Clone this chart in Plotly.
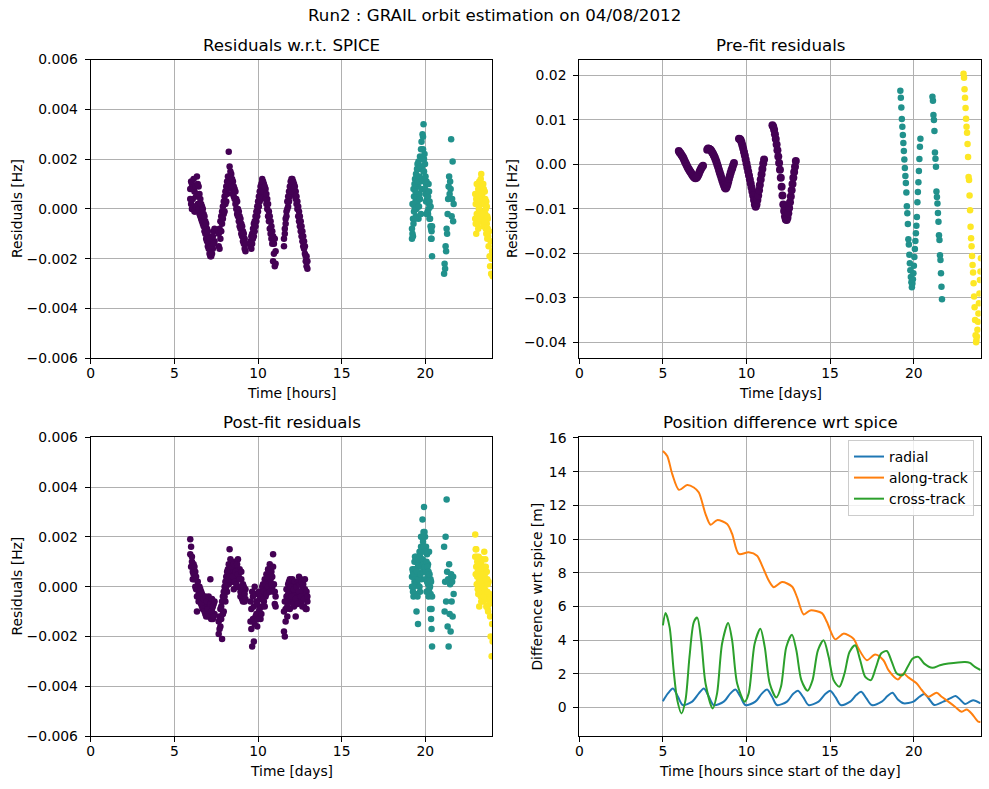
import plotly.graph_objects as go

# ---------------- data ----------------
# observation times [h] for each arc segment (purple arc)
tA = [5.95, 6.00, 6.05, 6.10, 6.15, 6.20, 6.25, 6.30, 6.35, 6.40, 6.45, 6.50, 6.55, 6.60, 6.65,
      6.70, 6.75, 6.80, 6.85, 6.90, 6.95, 7.00, 7.05, 7.10, 7.15, 7.20, 7.25, 7.30, 7.35, 7.40]
tB = [7.65, 7.70, 7.75, 7.80, 7.85, 7.90, 7.95, 8.00, 8.05, 8.10, 8.15, 8.20, 8.25, 8.30, 8.35, 8.40, 8.45,
      8.50, 8.55, 8.60, 8.65, 8.70, 8.75, 8.80, 8.85, 8.90, 8.95, 9.00, 9.05, 9.10, 9.15, 9.20, 9.25]
tC = [9.55, 9.60, 9.65, 9.70, 9.75, 9.80, 9.85, 9.90, 9.95, 10.00, 10.05, 10.10, 10.15, 10.20, 10.25, 10.30,
      10.35, 10.40, 10.45, 10.50, 10.55, 10.60, 10.65, 10.70, 10.75, 10.80, 10.85, 10.90, 10.95, 11.00, 11.05]
tD = [11.55, 11.60, 11.65, 11.70, 11.75, 11.80, 11.85, 11.90, 11.95, 12.00, 12.05, 12.10, 12.15, 12.20, 12.25,
      12.30, 12.35, 12.40, 12.45, 12.50, 12.55, 12.60, 12.65, 12.70, 12.75, 12.80, 12.85, 12.90, 12.95]
# teal arc
tE = [19.20, 19.23, 19.26, 19.29, 19.32, 19.35, 19.38, 19.41, 19.44, 19.47, 19.50, 19.53, 19.56, 19.59,
      19.62, 19.65, 19.68, 19.71, 19.74, 19.77, 19.80, 19.83, 19.86, 19.89]
tF = [19.92, 19.95, 19.98, 20.01, 20.04, 20.07, 20.10, 20.13, 20.16, 20.19, 20.22, 20.25, 20.28, 20.31,
      20.34, 20.37, 20.40]
tG = [21.12, 21.15, 21.18, 21.21, 21.24, 21.27, 21.30, 21.33, 21.36, 21.39, 21.42, 21.45, 21.48, 21.51,
      21.54, 21.57, 21.60, 21.63, 21.66, 21.69]
# yellow arc
tH = [22.98, 23.01, 23.04, 23.07, 23.10, 23.13, 23.16, 23.19, 23.22, 23.25, 23.28, 23.31, 23.34, 23.37,
      23.40, 23.43, 23.46, 23.49, 23.52, 23.55, 23.58, 23.61, 23.64, 23.67, 23.70, 23.73]
tI = [23.75, 23.78, 23.81, 23.84, 23.87, 23.90, 23.93, 23.96, 23.99, 24.02]

# residuals w.r.t. SPICE [Hz], two links observed at each epoch
spice_A = [0.0008, 0.0002, 0.0010, 0.0004, 0.0001, 0.0007, -0.0001, 0.0005, 0.0013, 0.0002, 0.0009, -0.0002,
           0.0004, -0.0004, 0.0001, -0.0006, -0.0002, -0.0009, -0.0005, -0.0012, -0.0008, -0.0015, -0.0011,
           -0.0018, -0.0014, -0.0019, -0.0012, -0.0016, -0.0009, -0.0013]
spice_B = [-0.0015, -0.0008, -0.0012, -0.0003, -0.0006, 0.0001, -0.0002, 0.0005, 0.0002, 0.0009, 0.0006,
           0.0013, 0.0023, 0.0017, 0.0010, 0.0014, 0.0008, 0.0011, 0.0005, 0.0008, 0.0002, 0.0004, -0.0002,
           0.0000, -0.0005, -0.0003, -0.0008, -0.0006, -0.0011, -0.0009, -0.0014, -0.0012, -0.0017]
spice_C = [-0.0013, -0.0016, -0.0010, -0.0012, -0.0006, -0.0009, -0.0003, -0.0005, 0.0001, -0.0001, 0.0005,
           0.0003, 0.0009, 0.0006, 0.0011, 0.0008, 0.0010, 0.0006, 0.0008, 0.0002, 0.0004, -0.0003, -0.0001,
           -0.0008, -0.0005, -0.0012, -0.0009, -0.0021, -0.0014, -0.0023, -0.0017]
spice_D = [-0.0012, -0.0008, -0.0004, -0.0001, 0.0003, 0.0001, 0.0007, 0.0005, 0.0011, 0.0008, 0.0012,
           0.0009, 0.0010, 0.0006, 0.0007, 0.0002, 0.0003, -0.0003, -0.0001, -0.0007, -0.0005, -0.0011,
           -0.0009, -0.0015, -0.0013, -0.0018, -0.0021, -0.0019, -0.0024]
spice_E = [-0.0012, -0.0010, -0.0004, -0.0006, 0.0005, 0.0001, 0.0012, 0.0003, -0.0003, 0.0012, 0.0005,
           0.0018, 0.0009, -0.0004, 0.0016, 0.0006, 0.0021, 0.0011, -0.0002, 0.0027, 0.0017, 0.0030, 0.0024, 0.0034]
spice_F = [0.0020, 0.0012, 0.0018, 0.0006, 0.0010, -0.0002, 0.0004, 0.0007, -0.0002, 0.0010, 0.0002,
           -0.0004, 0.0001, -0.0007, -0.0012, -0.0009, -0.0019]
spice_G = [-0.0026, -0.0022, -0.0024, -0.0015, -0.0017, -0.0008, -0.0010, -0.0002, 0.0004, 0.0009, 0.0013,
           0.0006, 0.0011, 0.0008, 0.0028, -0.0003, 0.0004, 0.0019, -0.0005, 0.0002]
spice_H = [-0.0004, 0.0002, -0.0010, -0.0002, 0.0005, -0.0006, 0.0008, 0.0000, 0.0011, -0.0003, 0.0009,
           0.0003, 0.0014, -0.0001, 0.0006, -0.0005, 0.0010, 0.0002, -0.0004, 0.0007, -0.0002, -0.0008,
           0.0003, -0.0006, -0.0012, -0.0004]
spice_I = [-0.0011, -0.0015, -0.0009, -0.0019, -0.0023, -0.0013, -0.0026, -0.0020, -0.0017, -0.0027]
spice2_A = [0.0004, 0.0011, 0.0000, 0.0008, 0.0012, -0.0001, 0.0009, 0.0001, 0.0006, 0.0010, 0.0000, 0.0006,
            -0.0003, 0.0002, -0.0005, 0.0000, -0.0007, -0.0003, -0.0010, -0.0006, -0.0013, -0.0009, -0.0016,
            -0.0012, -0.0019, -0.0015, -0.0018, -0.0011, -0.0014, -0.0008]
spice2_B = [-0.0010, -0.0016, -0.0005, -0.0009, -0.0001, -0.0004, 0.0003, -0.0001, 0.0007, 0.0003, 0.0011,
            0.0008, 0.0010, 0.0013, 0.0015, 0.0009, 0.0012, 0.0006, 0.0009, 0.0004, 0.0007, 0.0000, 0.0003,
            -0.0003, -0.0001, -0.0007, -0.0004, -0.0010, -0.0007, -0.0013, -0.0010, -0.0016, -0.0014]
spice2_C = [-0.0015, -0.0011, -0.0014, -0.0008, -0.0011, -0.0005, -0.0007, -0.0001, -0.0003, 0.0003, 0.0001,
            0.0007, 0.0004, 0.0010, 0.0012, 0.0011, 0.0007, 0.0009, 0.0004, 0.0006, 0.0000, 0.0002, -0.0005,
            -0.0003, -0.0010, -0.0007, -0.0014, -0.0011, -0.0018, -0.0012, -0.0022]
spice2_D = [-0.0015, -0.0010, -0.0006, -0.0003, 0.0000, 0.0005, 0.0003, 0.0009, 0.0007, 0.0012, 0.0010,
            0.0011, 0.0008, 0.0009, 0.0004, 0.0005, 0.0000, 0.0001, -0.0005, -0.0003, -0.0009, -0.0007,
            -0.0013, -0.0011, -0.0016, -0.0015, -0.0019, -0.0023, -0.0021]
spice2_E = [-0.0008, 0.0002, -0.0011, 0.0008, -0.0001, 0.0010, -0.0004, 0.0007, 0.0014, 0.0000, 0.0016,
            0.0003, 0.0011, 0.0019, 0.0001, 0.0013, 0.0004, 0.0017, 0.0024, 0.0008, 0.0020, 0.0012, 0.0029, 0.0015]
spice2_F = [0.0015, 0.0022, 0.0008, 0.0013, 0.0003, 0.0011, 0.0006, -0.0001, 0.0005, 0.0000, 0.0007, 0.0003,
            -0.0004, 0.0001, -0.0008, -0.0012, -0.0007]
spice2_H = [0.0006, -0.0006, 0.0004, 0.0010, -0.0003, 0.0003, -0.0008, 0.0006, 0.0001, 0.0008, -0.0004,
            0.0012, 0.0005, 0.0009, -0.0002, 0.0004, -0.0007, 0.0008, 0.0002, -0.0005, 0.0004, 0.0000,
            -0.0010, 0.0001, -0.0003, -0.0008]

# pre-fit residuals [Hz]
pre_A = [0.0030, 0.0027, 0.0025, 0.0022, 0.0019, 0.0016, 0.0012, 0.0008, 0.0004, 0.0000, -0.0004, -0.0008,
         -0.0011, -0.0014, -0.0017, -0.0020, -0.0023, -0.0026, -0.0028, -0.0030, -0.0031, -0.0030, -0.0028,
         -0.0025, -0.0021, -0.0016, -0.0012, -0.0008, -0.0005, -0.0003]
pre_B = [0.0033, 0.0036, 0.0035, 0.0034, 0.0033, 0.0030, 0.0027, 0.0024, 0.0020, 0.0016, 0.0011, 0.0006,
         0.0000, -0.0006, -0.0012, -0.0018, -0.0024, -0.0030, -0.0036, -0.0042, -0.0047, -0.0052, -0.0054,
         -0.0052, -0.0047, -0.0040, -0.0033, -0.0026, -0.0019, -0.0013, -0.0008, -0.0002, 0.0003]
pre_C = [0.0058, 0.0057, 0.0055, 0.0050, 0.0043, 0.0036, 0.0028, 0.0020, 0.0011, 0.0002, -0.0007, -0.0016,
         -0.0025, -0.0034, -0.0043, -0.0052, -0.0061, -0.0070, -0.0080, -0.0090, -0.0095, -0.0090, -0.0080,
         -0.0070, -0.0058, -0.0046, -0.0034, -0.0022, -0.0010, 0.0002, 0.0011]
pre_D = [0.0088, 0.0085, 0.0078, 0.0068, 0.0057, 0.0045, 0.0032, 0.0018, 0.0003, -0.0012, -0.0030, -0.0050,
         -0.0070, -0.0090, -0.0105, -0.0117, -0.0124, -0.0125, -0.0120, -0.0110, -0.0098, -0.0085, -0.0072,
         -0.0058, -0.0044, -0.0030, -0.0017, -0.0005, 0.0008]
pre_E = [0.0166, 0.0150, 0.0128, 0.0102, 0.0085, 0.0066, 0.0048, 0.0030, 0.0011, -0.0008, -0.0026, -0.0042,
         -0.0063, -0.0094, -0.0110, -0.0134, -0.0168, -0.0180, -0.0203, -0.0222, -0.0238, -0.0253, -0.0265, -0.0276]
pre_F = [-0.0268, -0.0258, -0.0245, -0.0228, -0.0208, -0.0190, -0.0172, -0.0155, -0.0138, -0.0118, -0.0085,
         -0.0062, -0.0040, -0.0015, 0.0012, 0.0040, 0.0058]
pre_G = [0.0152, 0.0143, 0.0111, 0.0100, 0.0075, 0.0027, 0.0013, -0.0005, -0.0061, -0.0073, -0.0088, -0.0109,
         -0.0129, -0.0159, -0.0170, -0.0204, -0.0215, -0.0245, -0.0275, -0.0303]
pre_H = [0.0204, 0.0195, 0.0169, 0.0150, 0.0127, 0.0103, 0.0085, 0.0071, 0.0046, 0.0017, -0.0028, -0.0035,
         -0.0070, -0.0103, -0.0140, -0.0166, -0.0184, -0.0206, -0.0226, -0.0243, -0.0267, -0.0297, -0.0321,
         -0.0350, -0.0384, -0.0400]
pre_I = [-0.0395, -0.0387, -0.0372, -0.0354, -0.0335, -0.0312, -0.0290, -0.0260, -0.0241, -0.0211]

# post-fit residuals [Hz], two links observed at each epoch
post_A = [0.0019, 0.0016, 0.0010, 0.0006, 0.0009, 0.0003, 0.0006, -0.0001, -0.0010, 0.0002, -0.0003, 0.0000,
          -0.0006, -0.0002, -0.0008, -0.0004, -0.0009, -0.0006, -0.0011, -0.0007, -0.0010, -0.0005, -0.0012,
          -0.0008, 0.0003, -0.0013, -0.0009, -0.0013, -0.0007, -0.0011]
post_B = [-0.0019, -0.0012, -0.0016, -0.0008, -0.0021, -0.0004, -0.0010, 0.0000, -0.0006, 0.0004, -0.0002,
          0.0007, 0.0001, 0.0015, 0.0005, 0.0009, 0.0002, 0.0007, -0.0001, 0.0010, 0.0003, 0.0008, 0.0000,
          0.0011, 0.0004, 0.0007, -0.0002, 0.0003, -0.0005, 0.0001, -0.0003, -0.0006, -0.0001]
post_C = [-0.0014, -0.0009, -0.0024, -0.0004, -0.0022, 0.0000, -0.0012, -0.0006, -0.0016, -0.0003, -0.0010,
          -0.0005, -0.0013, -0.0002, -0.0008, 0.0001, -0.0006, 0.0003, -0.0004, 0.0005, -0.0001, 0.0007,
          0.0002, 0.0009, 0.0003, 0.0006, 0.0000, 0.0013, -0.0002, -0.0007, -0.0004]
post_D = [-0.0018, -0.0020, -0.0009, -0.0004, -0.0012, 0.0001, -0.0006, 0.0003, -0.0002, 0.0002, -0.0005,
          0.0000, -0.0008, -0.0003, -0.0012, -0.0006, 0.0001, -0.0004, 0.0004, -0.0002, 0.0003, -0.0006,
          0.0000, -0.0003, -0.0008, -0.0001, -0.0005, -0.0009, -0.0006]
post_E = [0.0004, 0.0000, 0.0006, -0.0004, 0.0007, 0.0002, 0.0012, -0.0003, 0.0005, -0.0010, 0.0010, 0.0001,
          -0.0015, 0.0008, 0.0004, 0.0014, -0.0002, 0.0009, 0.0020, 0.0003, 0.0014, 0.0027, 0.0006, 0.0022]
post_F = [0.0032, 0.0010, 0.0020, 0.0003, 0.0016, -0.0002, 0.0013, 0.0005, 0.0009, -0.0004, 0.0014, 0.0002,
          -0.0009, 0.0003, -0.0013, -0.0017, -0.0024]
post_G = [0.0016, -0.0010, 0.0002, 0.0020, -0.0006, 0.0035, 0.0006, -0.0016, 0.0003, -0.0024, 0.0009,
          -0.0011, 0.0001, -0.0018, 0.0005, -0.0006, 0.0002, -0.0012, 0.0004, -0.0003]
post_H = [0.0021, 0.0015, 0.0008, 0.0012, 0.0004, -0.0001, 0.0009, 0.0002, -0.0008, 0.0006, 0.0000, -0.0004,
          0.0010, 0.0004, -0.0002, 0.0007, -0.0006, 0.0001, 0.0014, 0.0005, -0.0003, 0.0008, 0.0002, -0.0005,
          0.0003, -0.0009]
post_I = [-0.0010, 0.0002, -0.0007, -0.0003, -0.0012, -0.0020, -0.0005, -0.0028, -0.0015, -0.0022]
post2_A = [0.0013, 0.0008, 0.0012, 0.0003, 0.0005, 0.0008, 0.0000, 0.0004, -0.0004, -0.0001, -0.0006, -0.0004,
           -0.0001, -0.0007, -0.0003, -0.0009, -0.0005, -0.0010, -0.0004, -0.0012, -0.0006, -0.0009, -0.0004,
           -0.0011, -0.0007, -0.0010, -0.0005, -0.0008, -0.0012, -0.0006]
post2_B = [-0.0014, -0.0017, -0.0009, -0.0013, -0.0006, -0.0011, -0.0002, -0.0004, 0.0002, 0.0000, 0.0006,
           0.0003, 0.0009, 0.0004, 0.0011, 0.0003, 0.0008, 0.0004, 0.0009, 0.0002, 0.0006, 0.0001, 0.0009,
           0.0005, 0.0000, 0.0003, -0.0004, 0.0006, -0.0002, -0.0006, 0.0000, -0.0003, -0.0005]
post2_C = [-0.0006, -0.0017, -0.0002, -0.0013, -0.0008, -0.0015, -0.0003, -0.0011, -0.0007, -0.0013, -0.0002,
           -0.0009, -0.0004, -0.0011, 0.0000, -0.0005, -0.0002, -0.0008, 0.0001, -0.0003, 0.0004, 0.0000,
           0.0006, -0.0002, 0.0008, 0.0001, 0.0004, 0.0008, 0.0001, -0.0002, -0.0008]
post2_D = [-0.0010, -0.0006, -0.0014, -0.0001, -0.0008, -0.0003, 0.0002, -0.0009, 0.0000, -0.0004, 0.0003,
           -0.0007, -0.0001, 0.0002, -0.0005, 0.0000, -0.0007, 0.0002, -0.0002, 0.0001, -0.0004, 0.0002,
           -0.0008, 0.0001, -0.0005, 0.0003, -0.0009, -0.0002, -0.0004]
post2_E = [0.0000, 0.0007, -0.0002, 0.0005, 0.0000, 0.0010, 0.0003, 0.0007, 0.0012, 0.0002, 0.0006, -0.0004,
           0.0009, 0.0003, 0.0011, 0.0000, 0.0012, 0.0005, 0.0016, 0.0008, 0.0020, 0.0011, 0.0018, 0.0009]
post2_F = [0.0016, 0.0022, 0.0008, 0.0014, 0.0006, 0.0010, 0.0002, 0.0008, 0.0001, 0.0006, -0.0001, 0.0005,
           0.0000, -0.0003, 0.0002, -0.0009, -0.0004]
post2_H = [0.0012, 0.0005, 0.0015, 0.0001, 0.0010, 0.0006, -0.0003, 0.0012, 0.0004, -0.0002, 0.0009, 0.0002,
           -0.0006, 0.0007, 0.0011, 0.0000, 0.0005, -0.0004, 0.0008, -0.0001, 0.0011, 0.0003, -0.0008, 0.0006,
           -0.0002, 0.0001]

# position difference wrt SPICE [m]
t_along = [5.00, 5.26, 5.56, 5.96, 6.45, 6.85, 7.15, 7.55, 7.85, 8.24, 8.84, 9.14, 9.54, 10.13, 10.63,
           10.93, 11.33, 11.63, 12.12, 12.72, 13.02, 13.42, 13.81, 14.51, 14.81, 15.31, 15.80, 16.40, 16.70,
           17.20, 17.69, 18.19, 18.49, 19.05, 19.39, 19.68, 20.18, 20.48, 20.88, 21.37, 21.67, 22.07, 22.47,
           22.87, 23.17, 23.46, 23.86, 24.00]
along = [15.23, 14.93, 13.85, 12.92, 13.21, 13.06, 12.76, 11.48, 10.85, 11.12, 10.89, 10.30, 9.11, 9.21, 9.01,
         8.42, 7.53, 7.14, 7.44, 7.18, 6.55, 5.52, 5.76, 5.60, 5.07, 4.04, 4.38, 4.08, 3.49, 2.80, 3.14, 2.80,
         2.21, 1.66, 2.01, 1.78, 1.42, 1.03, 0.63, 0.87, 0.63, 0.34, 0.04, -0.26, -0.12, -0.36, -0.85, -0.86]
t_cross = [5.00, 5.16, 5.40, 5.64, 5.86, 6.11, 6.35, 6.59, 6.85, 7.05, 7.29, 7.55, 7.98, 8.24, 8.54, 8.90,
           9.14, 9.44, 9.89, 10.13, 10.49, 10.83, 11.09, 11.39, 11.78, 12.06, 12.38, 12.72, 12.98, 13.28,
           13.65, 13.95, 14.27, 14.61, 14.91, 15.21, 15.55, 15.86, 16.16, 16.50, 16.80, 17.10, 17.44, 17.75,
           18.05, 18.39, 18.69, 18.99, 19.33, 19.64, 19.94, 20.28, 20.63, 21.12, 21.57, 22.07, 23.07, 23.36,
           23.66, 24.00]
cross = [4.87, 5.60, 4.77, 2.21, 0.43, -0.36, 0.43, 3.00, 5.07, 5.33, 3.98, 1.42, -0.06, 0.83, 3.79, 5.01,
         3.98, 1.42, 0.34, 0.83, 3.79, 4.67, 3.59, 1.42, 0.59, 1.22, 3.59, 4.32, 3.39, 1.62, 0.99, 1.62, 3.39,
         3.98, 3.00, 1.62, 1.22, 2.01, 3.29, 3.69, 2.80, 1.81, 1.62, 2.41, 3.20, 3.35, 2.70, 2.01, 1.91, 2.41,
         2.90, 3.00, 2.60, 2.35, 2.50, 2.60, 2.70, 2.64, 2.41, 2.22]
t_radial = [5.00, 5.30, 5.60, 5.90, 6.19, 6.75, 7.15, 7.45, 7.75, 8.04, 8.64, 9.04, 9.34, 9.64, 9.93, 10.53,
            10.93, 11.23, 11.53, 11.82, 12.42, 12.78, 13.08, 13.40, 13.71, 14.31, 14.71, 15.01, 15.33, 15.64,
            16.20, 16.56, 16.86, 17.17, 17.49, 18.09, 18.43, 18.73, 19.05, 19.39, 19.98, 20.34, 20.64, 20.94,
            21.24, 21.77, 22.17, 22.51, 22.81, 23.07, 23.36, 23.56, 24.00]
radial = [0.37, 0.83, 1.12, 0.63, 0.14, 0.34, 0.83, 1.12, 0.63, 0.14, 0.34, 0.83, 1.06, 0.63, 0.14, 0.34,
          0.83, 1.06, 0.63, 0.14, 0.34, 0.79, 0.99, 0.59, 0.14, 0.34, 0.79, 0.99, 0.59, 0.14, 0.34, 0.73,
          0.93, 0.53, 0.14, 0.34, 0.67, 0.87, 0.47, 0.24, 0.34, 0.63, 0.79, 0.47, 0.14, 0.34, 0.53, 0.67,
          0.43, 0.20, 0.34, 0.43, 0.24]

x_ticks = [0, 5, 10, 15, 20]
res_ticks = [-0.006, -0.004, -0.002, 0.0, 0.002, 0.004, 0.006]
pre_ticks = [-0.04, -0.03, -0.02, -0.01, 0.0, 0.01, 0.02]
pos_ticks = [0, 2, 4, 6, 8, 10, 12, 14, 16]

# ---------------- figure ----------------
W, H = 989, 789
FONT = "DejaVu Sans"
PURPLE, TEAL, YELLOW = "#440154", "#21918c", "#fde725"


def fx(p):
    return p / W


def fy(p):
    return 1 - p / H


fig = go.Figure()

panels = [
    ("x", "y", 6.5,
     [(tA, spice_A), (tB, spice_B), (tC, spice_C), (tD, spice_D),
      (tA, spice2_A), (tB, spice2_B), (tC, spice2_C), (tD, spice2_D)],
     [(tE, spice_E), (tF, spice_F), (tG, spice_G), (tE, spice2_E), (tF, spice2_F)],
     [(tH, spice_H), (tI, spice_I), (tH, spice2_H)]),
    ("x2", "y2", 8.0,
     [(tA, pre_A), (tB, pre_B), (tC, pre_C), (tD, pre_D)],
     [(tE, pre_E), (tF, pre_F), (tG, pre_G)],
     [(tH, pre_H), (tI, pre_I)]),
    ("x3", "y3", 6.5,
     [(tA, post_A), (tB, post_B), (tC, post_C), (tD, post_D),
      (tA, post2_A), (tB, post2_B), (tC, post2_C), (tD, post2_D)],
     [(tE, post_E), (tF, post_F), (tG, post_G), (tE, post2_E), (tF, post2_F)],
     [(tH, post_H), (tI, post_I), (tH, post2_H)]),
]
for xa, ya, psize, purp, teal, yel in panels:
    for segs, col, size in [(purp, PURPLE, psize), (teal, TEAL, 6.5), (yel, YELLOW, 6.5)]:
        xs, ys = [], []
        for t, v in segs:
            xs += t
            ys += v
        fig.add_trace(go.Scatter(x=xs, y=ys, mode="markers", xaxis=xa, yaxis=ya, showlegend=False,
                                 marker=dict(color=col, size=size, line=dict(width=0))))

for t, v, name, col in [(t_radial, radial, "radial", "#1f77b4"),
                        (t_along, along, "along-track", "#ff7f0e"),
                        (t_cross, cross, "cross-track", "#2ca02c")]:
    fig.add_trace(go.Scatter(x=t, y=v, mode="lines", name=name, xaxis="x4", yaxis="y4",
                             line=dict(color=col, width=2, shape="spline", smoothing=0.8)))

xl = [fx(90.7), fx(492.3)]
xr = [fx(579.3), fx(980.6)]
yt = [fy(358.3), fy(59.5)]
yb = [fy(736.0), fy(437.3)]

common = dict(showline=True, linecolor="black", linewidth=1, mirror=True, ticks="outside", ticklen=5,
              tickwidth=1, tickcolor="black", showgrid=True, gridcolor="#b0b0b0", gridwidth=0.8,
              zeroline=False, automargin=False, tickfont=dict(family=FONT, size=13.9, color="black"))
cx = dict(common, ticklabelstandoff=-3)
cy = dict(common, ticklabelstandoff=4)

lay = dict(
    template="none",
    width=W, height=H, autosize=False, margin=dict(l=0, r=0, t=0, b=0, pad=0, autoexpand=False),
    paper_bgcolor="white", plot_bgcolor="white",
    font=dict(family=FONT, color="black"), showlegend=True,
    xaxis=dict(domain=xl, anchor="y", range=[0, 24], tickvals=x_ticks, **cx),
    yaxis=dict(domain=yt, anchor="x", range=[-0.006, 0.006], tickvals=res_ticks, tickformat=".3f", **cy),
    xaxis2=dict(domain=xr, anchor="y2", range=[0, 24], tickvals=x_ticks, **cx),
    yaxis2=dict(domain=yt, anchor="x2", range=[-0.0436, 0.0236], tickvals=pre_ticks, tickformat=".2f", **cy),
    xaxis3=dict(domain=xl, anchor="y3", range=[0, 24], tickvals=x_ticks, **cx),
    yaxis3=dict(domain=yb, anchor="x3", range=[-0.006, 0.006], tickvals=res_ticks, tickformat=".3f", **cy),
    xaxis4=dict(domain=xr, anchor="y4", range=[0, 24], tickvals=x_ticks, **cx),
    yaxis4=dict(domain=yb, anchor="x4", range=[-1.7, 16.04], tickvals=pos_ticks, **cy),
    legend=dict(x=fx(974), y=fy(440), xanchor="right", yanchor="top", bgcolor="rgba(255,255,255,0.8)",
                bordercolor="#cccccc", borderwidth=1, font=dict(family=FONT, size=13.9, color="black"),
                itemwidth=30, tracegroupgap=0),
)
fig.update_layout(**lay)

ann = []


def text(s, x, y, size, angle=0):
    ann.append(dict(text=s, x=fx(x), y=fy(y), xref="paper", yref="paper", showarrow=False,
                    xanchor="center", yanchor="middle", textangle=angle,
                    font=dict(family=FONT, size=size, color="black")))


text("Run2 : GRAIL orbit estimation on 04/08/2012", 494.5, 16, 16.67)
text("Residuals w.r.t. SPICE", 291.5, 45.5, 16.67)
text("Pre-fit residuals", 780, 45.5, 16.67)
text("Post-fit residuals", 291.5, 422.7, 16.67)
text("Position difference wrt spice", 780, 422.7, 16.67)
text("Time [hours]", 291.5, 393, 13.9)
text("Time [days]", 780, 393, 13.9)
text("Time [days]", 291.5, 771, 13.9)
text("Time [hours since start of the day]", 780, 771, 13.9)
text("Residuals [Hz]", 17, 209, 13.9, -90)
text("Residuals [Hz]", 512, 209, 13.9, -90)
text("Residuals [Hz]", 17, 586.6, 13.9, -90)
text("Difference wrt spice [m]", 537, 586.6, 13.9, -90)
fig.update_layout(annotations=ann)

fig.write_html("out.html",
               post_script="document.body.style.margin='0';document.body.style.padding='0';"
                           "document.documentElement.style.overflow='hidden';")
